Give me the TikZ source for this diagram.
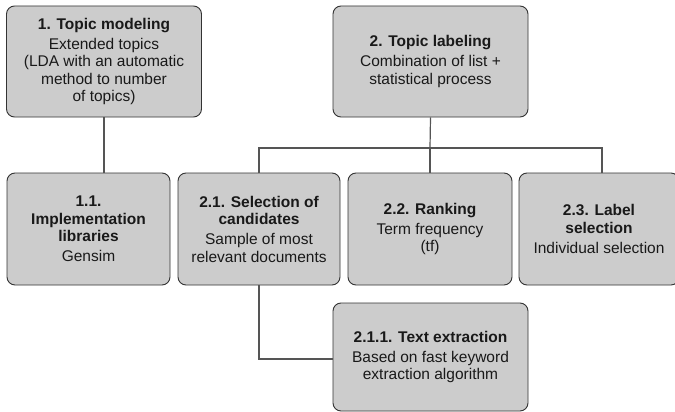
\documentclass[tikz,border=0pt]{standalone}
\usepackage{fontspec}
\setmainfont{Liberation Sans}
\definecolor{boxfill}{HTML}{CCCCCC}
\definecolor{boxline}{HTML}{333333}
\definecolor{conn}{HTML}{555555}
\begin{document}
\begin{tikzpicture}[x=1pt,y=-1pt,
  box/.style={draw=boxline, fill=boxfill, rounded corners=8pt, line width=0.9pt,
    align=center, inner sep=0pt, text=black!90,
    font=\fontsize{15.5}{17.5}\selectfont},
  conn/.style={draw=conn, line width=1.2pt}]
\clip (0,0) rectangle (675,412);
\node[box, minimum width=195pt, minimum height=111pt] (n1) at (104,61.5)
  {\textbf{1. Topic modeling}\\[2.5pt] Extended topics\\ (LDA with an automatic\\ method to number\\ of topics)};
\node[box, minimum width=195pt, minimum height=111pt] (n2) at (430.5,61.5)
  {\textbf{2. Topic labeling}\\[2.5pt] Combination of list +\\ statistical process};
\node[box, minimum width=163pt, minimum height=112pt] (n11) at (88.5,229)
  {\textbf{1.1.}\\ \textbf{Implementation}\\ \textbf{libraries}\\[2.5pt] Gensim};
\node[box, minimum width=162pt, minimum height=112pt] (n21) at (259,229)
  {\textbf{2.1. Selection of}\\ \textbf{candidates}\\[2.5pt] Sample of most\\ relevant documents};
\node[box, minimum width=164pt, minimum height=112pt] (n22) at (430,229)
  {\textbf{2.2. Ranking}\\[2.5pt] Term frequency\\ (tf)};
\node[box, minimum width=160pt, minimum height=112pt] (n23) at (599,229)
  {\textbf{2.3. Label}\\ \textbf{selection}\\[2.5pt] Individual selection};
\node[box, minimum width=195pt, minimum height=108pt] (n211) at (430.5,357)
  {\textbf{2.1.1. Text extraction}\\[2.5pt] Based on fast keyword\\ extraction algorithm};
\coordinate (bus) at (430,148);
\coordinate (busL) at (259,148);
\coordinate (busR) at (602,148);
\coordinate (elbow) at (259,359);
\draw[conn] (n1.south) -- (n1.south |- n11.north);
\draw[conn] (n2.south) -- (bus);
\draw[conn] (busL |- n21.north) -- (busL) -- (busR) -- (busR |- n23.north);
\draw[conn] (bus) -- (bus |- n22.north);
\draw[conn] (n21.south) -- (elbow) -- (elbow -| n211.west);
\end{tikzpicture}
\end{document}
